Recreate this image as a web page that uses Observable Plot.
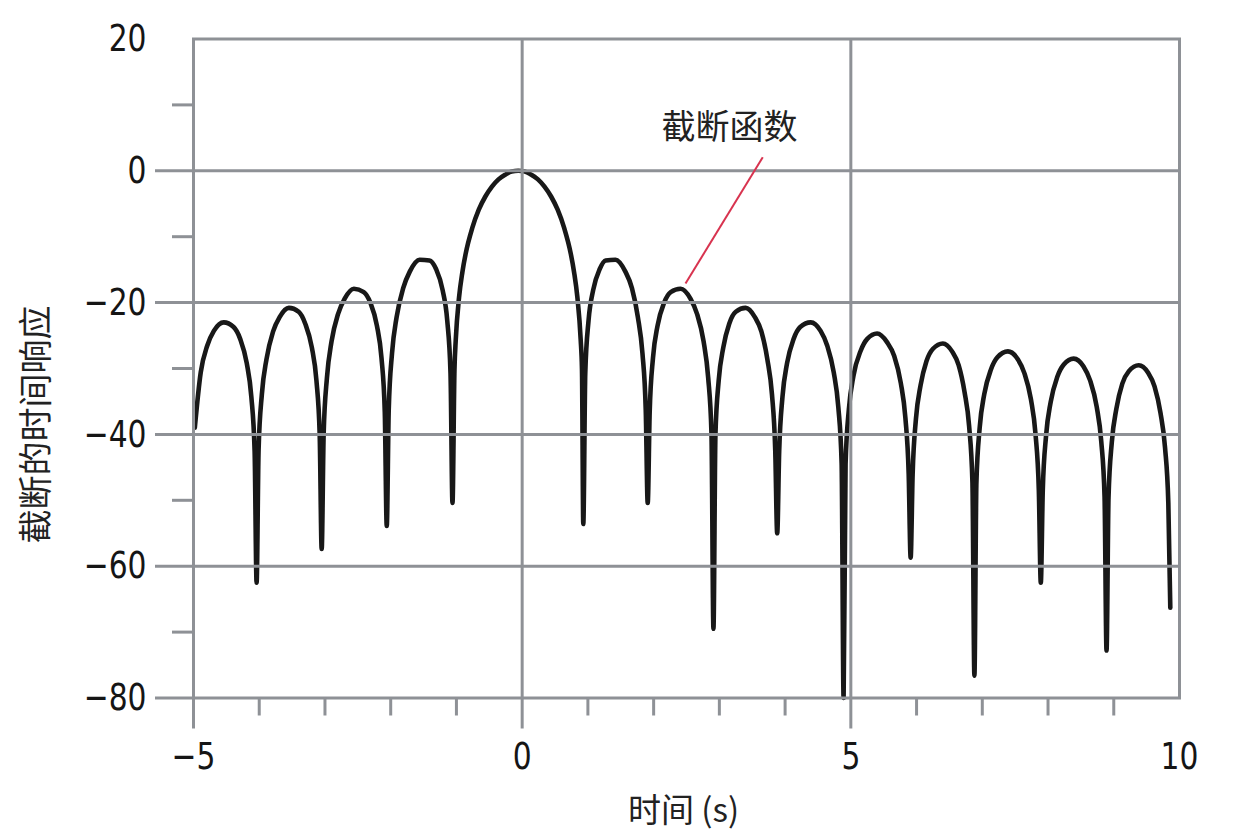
<!DOCTYPE html>
<html>
<head>
<meta charset="utf-8">
<script src="https://cdn.jsdelivr.net/npm/d3@7"></script>
<script src="https://cdn.jsdelivr.net/npm/@observablehq/plot@0.6"></script>
<style>
  html, body { margin: 0; padding: 0; background: #ffffff; }
  #chart svg { display: block; }
</style>
</head>
<body>
<div id="chart"></div>
<script>
// Time axis (s) and truncated-function time response (dB)
const timeS = [
  -4.98,-4.89,-4.79,-4.69,-4.54,-4.39,-4.29,-4.19,-4.12,-4.07,-4.04,
  -4.01,-3.96,-3.89,-3.79,-3.69,-3.55,-3.40,-3.30,-3.20,-3.13,-3.08,-3.05,
  -3.02,-2.97,-2.90,-2.80,-2.70,-2.56,-2.41,-2.31,-2.21,-2.14,-2.09,-2.06,
  -2.03,-1.98,-1.91,-1.81,-1.71,-1.56,-1.41,-1.31,-1.21,-1.14,-1.09,-1.06,
  -1.03,-1.01,-0.96,-0.91,-0.86,-0.76,-0.66,-0.56,-0.46,-0.36,-0.26,-0.16,-0.06,
  0.04,0.14,0.24,0.34,0.44,0.54,0.64,0.74,0.79,0.84,0.89,0.91,0.93,
  0.96,1.01,1.08,1.18,1.27,1.42,1.57,1.67,1.76,1.83,1.88,1.91,
  1.94,1.99,2.06,2.16,2.26,2.41,2.56,2.66,2.76,2.83,2.88,2.91,
  2.94,2.99,3.06,3.15,3.25,3.40,3.54,3.64,3.73,3.80,3.85,3.88,
  3.91,3.96,4.03,4.13,4.23,4.39,4.54,4.64,4.74,4.81,4.86,4.89,
  4.92,4.97,5.04,5.15,5.25,5.40,5.55,5.66,5.76,5.83,5.88,5.91,
  5.94,5.99,6.06,6.15,6.25,6.40,6.54,6.64,6.73,6.80,6.85,6.88,
  6.91,6.96,7.03,7.13,7.23,7.39,7.54,7.64,7.74,7.81,7.86,7.89,
  7.92,7.97,8.04,8.14,8.24,8.39,8.54,8.64,8.74,8.81,8.86,8.89,
  8.92,8.97,9.04,9.13,9.23,9.38,9.52,9.62,9.71,9.78,9.83,9.86
];
const responseDb = [
  -39,-30.6,-26.5,-24.3,-23.0,-23.7,-25.5,-29.2,-34.3,-42.6,-62.5,
  -42.4,-33.9,-28.6,-24.4,-22.2,-20.8,-21.4,-23.2,-26.8,-31.8,-40.1,-57.4,
  -39.9,-31.4,-25.9,-21.7,-19.4,-17.9,-18.4,-20.0,-23.5,-28.4,-36.6,-53.9,
  -36.3,-27.7,-22.2,-17.8,-15.3,-13.5,-13.6,-14.9,-18.1,-22.7,-30.7,-50.4,
  -30.2,-25.6,-19.2,-15.4,-12.6,-8.7,-5.9,-3.9,-2.4,-1.3,-0.6,-0.1,0,
  -0.1,-0.6,-1.3,-2.4,-3.9,-5.9,-8.7,-12.6,-15.4,-19.2,-25.6,-30.2,-53.6,
  -30.7,-22.7,-18.1,-14.9,-13.6,-13.5,-15.3,-17.8,-22.2,-27.7,-36.3,-50.4,
  -36.6,-28.4,-23.5,-20.0,-18.4,-17.9,-19.4,-21.7,-25.9,-31.4,-39.9,-69.5,
  -40.1,-31.8,-26.8,-23.2,-21.4,-20.8,-22.2,-24.4,-28.6,-33.9,-42.4,-55.0,
  -42.6,-34.3,-29.2,-25.5,-23.7,-23.0,-24.3,-26.5,-30.6,-35.9,-44.4,-80,
  -44.5,-36.2,-31.1,-27.3,-25.5,-24.7,-26.0,-28.1,-32.2,-37.5,-46.0,-58.7,
  -46.1,-37.7,-32.6,-28.9,-27.0,-26.2,-27.4,-29.5,-33.6,-38.8,-47.3,-76.6,
  -47.4,-39.0,-33.9,-30.2,-28.3,-27.4,-28.6,-30.7,-34.7,-40.0,-48.5,-62.5,
  -48.5,-40.2,-35.1,-31.3,-29.4,-28.5,-29.7,-31.8,-35.8,-41.1,-49.5,-72.8,
  -49.6,-41.2,-36.1,-32.3,-30.4,-29.5,-30.6,-32.7,-36.7,-42.0,-50.4,-66.3
];

const xTickLabels = [-5, 0, 5, 10];
const xMajorTicks = [-5, 0, 5];
const xMinorTicks = [-4, -3, -2, -1, 1, 2, 3, 4, 6, 7, 8, 9];
const xGrid = [0, 5];
const yTickLabels = [20, 0, -20, -40, -60, -80];
const yMajorTicks = [0, -20, -40, -60, -80];
const yMinorTicks = [10, -10, -30, -50, -70];
const yGrid = [0, -20, -40, -60];

const xAxisTitle = "时间 (s)";
const yAxisTitle = "截断的时间响应";
const annotationText = ["截断函数"];
const annotationLabelAt = {t: 3.155, db: 6.45};
const annotationLeader = [{t1: 3.66, db1: 2.05, t2: 2.485, db2: -17.1}];

const points = timeS.slice(0, Math.min(timeS.length, responseDb.length))
  .map((t, i) => ({t, db: responseDb[i]}));

const gray = "#8e9196";
const numFont = "'Liberation Sans Narrow', 'Arial Narrow', 'DejaVu Sans Condensed', sans-serif";
const cjkFont = "'Noto Sans CJK SC', 'Liberation Sans Narrow', sans-serif";

const chart = Plot.plot({
  width: 1256,
  height: 835,
  marginLeft: 193,
  marginRight: 77,
  marginTop: 38.5,
  marginBottom: 137.5,
  style: {background: "#ffffff", overflow: "visible"},
  x: {domain: [-5, 10]},
  y: {domain: [-80, 20]},
  marks: [
    Plot.line(points, {x: "t", y: "db", stroke: "#181818", strokeWidth: 4.6, curve: "monotone-x", strokeLinejoin: "round"}),
    Plot.ruleY(yGrid, {stroke: gray, strokeWidth: 3}),
    Plot.ruleX(xGrid, {stroke: gray, strokeWidth: 3}),
    Plot.frame({stroke: gray, strokeWidth: 3}),
    // y ticks
    Plot.axisY({ticks: yMajorTicks, tickSize: 38, stroke: gray, strokeWidth: 3, fill: "none", label: null}),
    Plot.axisY({ticks: yMinorTicks, tickSize: 21, stroke: gray, strokeWidth: 3, fill: "none", label: null}),
    Plot.axisY({ticks: yTickLabels, tickSize: 0, tickPadding: 47, fill: "#151515", fontSize: 38, fontFamily: numFont, label: null}),
    // x ticks
    Plot.axisX({ticks: xMajorTicks, tickSize: 31, stroke: gray, strokeWidth: 3, fill: "none", label: null}),
    Plot.axisX({ticks: xMinorTicks, tickSize: 18, stroke: gray, strokeWidth: 3, fill: "none", label: null}),
    Plot.axisX({ticks: xTickLabels, tickSize: 0, tickPadding: 44, fill: "#151515", fontSize: 38, fontFamily: numFont, label: null}),
    // axis titles
    Plot.text([yAxisTitle], {frameAnchor: "left", textAnchor: "middle", lineAnchor: "middle", rotate: -90, dx: -156, dy: 56, fontSize: 34, fontFamily: cjkFont, fill: "#222"}),
    Plot.text([xAxisTitle], {frameAnchor: "bottom", textAnchor: "middle", lineAnchor: "middle", dx: -3, dy: 113, fontSize: 33, fontFamily: cjkFont, fill: "#222"}),
    // annotation
    Plot.link(annotationLeader, {x1: "t1", y1: "db1", x2: "t2", y2: "db2", stroke: "#d8334f", strokeWidth: 2}),
    Plot.text(annotationText, {x: () => annotationLabelAt.t, y: () => annotationLabelAt.db, fontSize: 34, fontFamily: cjkFont, fill: "#222"})
  ]
});

// condense the numeric tick labels horizontally (the reference uses a narrow face)
chart.querySelectorAll('g[aria-label="y-axis tick label"] text, g[aria-label="x-axis tick label"] text').forEach((el) => {
  const tr = el.getAttribute("transform") || "";
  el.setAttribute("transform", tr + " scale(0.87,1)");
});

document.getElementById("chart").appendChild(chart);
</script>
</body>
</html>
